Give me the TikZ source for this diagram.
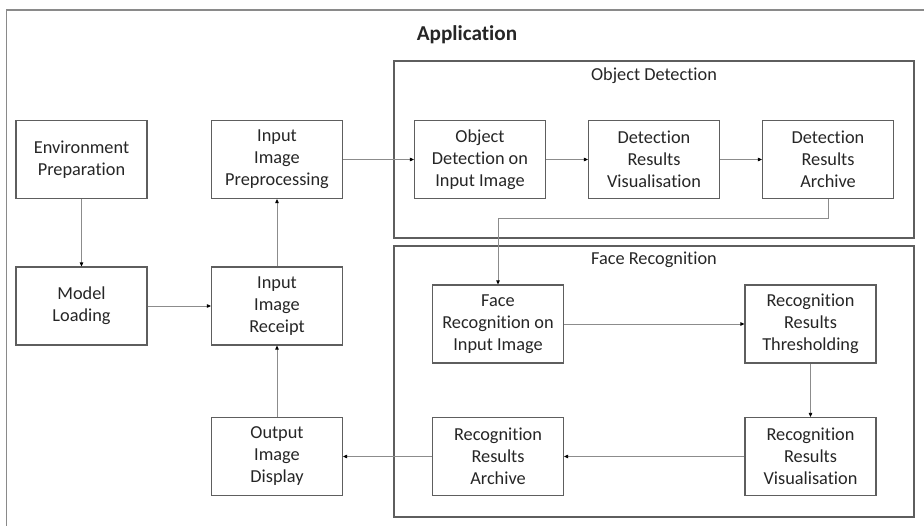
\documentclass[tikz,border=0pt]{standalone}
\usepackage{fontspec}
\setmainfont{Carlito}[Ligatures=NoCommon]
\usetikzlibrary{arrows.meta,calc}
\definecolor{framegray}{HTML}{8A8A8A}
\definecolor{boxgray}{HTML}{5E5E5E}
\definecolor{linegray}{HTML}{8C8C8C}
\definecolor{textgray}{HTML}{262626}
\begin{document}
\begin{tikzpicture}[x=1pt,y=-1pt,
  stage/.style={draw=boxgray, line width=1.1pt, fill=white, text=textgray,
    minimum width=131pt, minimum height=78pt, align=center, inner sep=2pt,
    font=\fontsize{18.3}{22}\selectfont},
  group/.style={draw=boxgray, line width=1.1pt},
  grouplabel/.style={text=textgray, font=\fontsize{18.3}{22}\selectfont, anchor=base},
  flow/.style={draw=linegray, line width=0.8pt,
    -{Triangle[length=4pt,width=3.5pt,color=black]}}
]
\useasboundingbox (0,0) rectangle (924,526);

% application frame (runs off the right and bottom edges)
\draw[framegray, line width=1.8pt] (6.5,526) -- (6.5,10) -- (924,10);
\node[text=textgray, font=\bfseries\fontsize{21.2}{24}\selectfont, anchor=base] (apptitle) at (467,41) {Application};

% sub-system frames
\draw[group] (394,61) rectangle (914,238);
\node[grouplabel] (odlabel) at (654,81) {Object Detection};
\draw[group] (394,246) rectangle (914,517);
\node[grouplabel] (frlabel) at (654,265) {Face Recognition};

% stages
\node[stage] (env)     at (81.5,159.5) {Environment\\Preparation};
\node[stage] (pre)     at (277,159.5)  {Input\\Image\\Preprocessing};
\node[stage] (model)   at (81.5,306)   {Model\\Loading};
\node[stage] (receipt) at (277,306)    {Input\\Image\\Receipt};
\node[stage] (output)  at (277,456.5)  {Output\\Image\\Display};
\node[stage] (odet)    at (480,159.5)  {Object\\Detection on\\Input Image};
\node[stage] (dvis)    at (654,159.5)  {Detection\\Results\\Visualisation};
\node[stage] (darc)    at (828,159.5)  {Detection\\Results\\Archive};
\node[stage] (frec)    at (498,324)    {Face\\Recognition on\\Input Image};
\node[stage] (rthr)    at (810.5,324)  {Recognition\\Results\\Thresholding};
\node[stage] (rvis)    at (810.5,456.5){Recognition\\Results\\Visualisation};
\node[stage] (rarc)    at (498,456.5)  {Recognition\\Results\\Archive};

% connectors
\coordinate (turn) at (498,218);
\draw[flow] (env) -- (model);
\draw[flow] (model) -- (receipt);
\draw[flow] (receipt) -- (pre);
\draw[flow] (pre) -- (odet);
\draw[flow] (odet) -- (dvis);
\draw[flow] (dvis) -- (darc);
\draw[flow] (darc.south) |- (turn) -- (frec.north);
\draw[flow] (frec) -- (rthr);
\draw[flow] (rthr) -- (rvis);
\draw[flow] (rvis) -- (rarc);
\draw[flow] (rarc) -- (output);
\draw[flow] (output) -- (receipt);
\end{tikzpicture}
\end{document}
